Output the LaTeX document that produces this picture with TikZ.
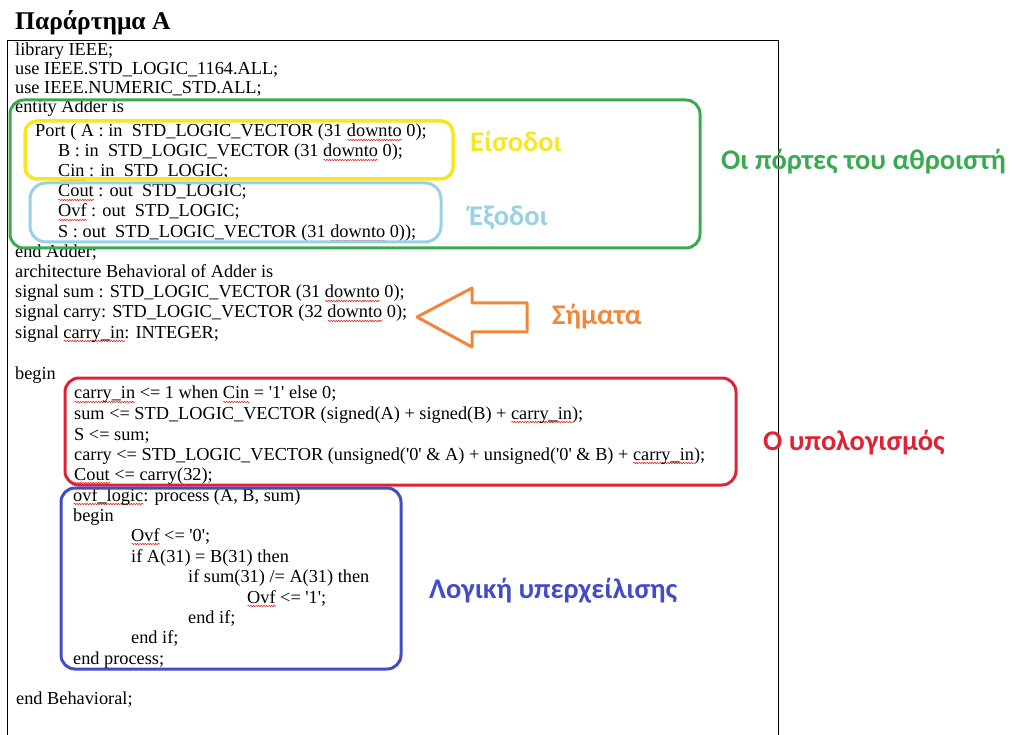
\documentclass[tikz,border=0pt]{standalone}
\usepackage{fontspec}
\setmainfont{Liberation Serif}
\newfontfamily\labelfont{Carlito}
\usetikzlibrary{decorations.pathmorphing}

\definecolor{portgreen}{RGB}{58,170,82}
\definecolor{ingold}{RGB}{248,230,34}
\definecolor{outblue}{RGB}{152,208,228}
\definecolor{sigorange}{RGB}{240,135,58}
\definecolor{calcred}{RGB}{222,36,52}
\definecolor{ovfblue}{RGB}{66,76,198}
\definecolor{spellred}{RGB}{228,40,40}

\newcommand\codesize{\fontsize{18.3}{20}\selectfont}
\newcommand\q{\textquotesingle}
% wavy spell-check underline below a word
\newlength\wavew
\newcommand\sq[1]{\settowidth\wavew{#1}\rlap{\tikz[baseline=0pt]\draw[spell] (0pt,-3pt) -- (\wavew,-3pt);}#1}

\tikzset{
  spell/.style={draw=spellred, line width=0.6pt, decorate,
    decoration={snake, segment length=2.6pt, amplitude=0.7pt}},
  code/.style={anchor=base west, inner sep=0pt, font=\codesize},
  tag/.style={anchor=base west, inner sep=0pt, font=\labelfont\bfseries\fontsize{28.5}{31}\selectfont},
  frame/.style={line width=3pt, rounded corners=14pt},
}

\begin{document}
\begin{tikzpicture}[x=1pt, y=-1pt]
\useasboundingbox (0,0) rectangle (1015,735);

% heading
\node[anchor=base west, inner sep=0pt, font=\bfseries\fontsize{25.5}{28}\selectfont] (title) at (15,30) {Παράρτημα Α};

% code listing frame (open at the bottom of the page)
\draw[line width=1pt] (7.5,740) -- (7.5,41) -- (778.5,41) -- (778.5,740);

% VHDL listing
\node[code] (l01) at (15,56)  {library IEEE;};
\node[code] (l02) at (15,75)  {use IEEE.STD\_LOGIC\_1164.ALL;};
\node[code] (l03) at (15,94)  {use IEEE.NUMERIC\_STD.ALL;};
\node[code] (l04) at (15,113) {entity Adder is};
\node[code] (l05) at (35,137) {Port ( A : in~~STD\_LOGIC\_VECTOR (31 \sq{downto} 0);};
\node[code] (l06) at (58,157) {B : in~~STD\_LOGIC\_VECTOR (31 \sq{downto} 0);};
\node[code] (l07) at (58,177) {\sq{Cin} : in~~STD\_LOGIC;};
\node[code] (l08) at (58,197) {\sq{Cout} : out~~STD\_LOGIC;};
\node[code] (l09) at (58,217) {\sq{Ovf} : out~~STD\_LOGIC;};
\node[code] (l10) at (58,238) {S : out~~STD\_LOGIC\_VECTOR (31 \sq{downto} 0));};
\node[code] (l11) at (15,258) {end Adder;};
\node[code] (l12) at (15,278) {architecture Behavioral of Adder is};
\node[code] (l13) at (15,298) {signal sum : STD\_LOGIC\_VECTOR (31 \sq{downto} 0);};
\node[code] (l14) at (15,318) {signal carry: STD\_LOGIC\_VECTOR (32 \sq{downto} 0);};
\node[code] (l15) at (15,338) {signal \sq{carry\_in}: INTEGER;};
\node[code] (l16) at (15,379) {begin};
\node[code] (l17) at (74,399) {\sq{carry\_in} <= 1 when \sq{Cin} = \q1\q{} else 0;};
\node[code] (l18) at (74,419) {sum <= STD\_LOGIC\_VECTOR (signed(A) + signed(B) + \sq{carry\_in});};
\node[code] (l19) at (74,440) {S <= sum;};
\node[code] (l20) at (74,460) {carry <= STD\_LOGIC\_VECTOR (unsigned(\q0\q{} \& A) + unsigned(\q0\q{} \& B) + \sq{carry\_in});};
\node[code] (l21) at (74,480) {\sq{Cout} <= carry(32);};
\node[code] (l22) at (73,501) {\sq{ovf\_logic}: process (A, B, sum)};
\node[code] (l23) at (73,521) {begin};
\node[code] (l24) at (131,541) {\sq{Ovf} <= \q0\q;};
\node[code] (l25) at (131,562) {if A(31) = B(31) then};
\node[code] (l26) at (188,582) {if sum(31) /= A(31) then};
\node[code] (l27) at (247,603) {\sq{Ovf} <= \q1\q;};
\node[code] (l28) at (188,623) {end if;};
\node[code] (l29) at (131,643) {end if;};
\node[code] (l30) at (73,664) {end process;};
\node[code] (l31) at (16,704) {end Behavioral;};

% highlighted regions
\draw[frame, draw=portgreen] (10,100) rectangle (700,248);
\draw[frame, draw=ingold, line width=3.5pt, rounded corners=12pt] (25,121) rectangle (453,179);
\draw[frame, draw=outblue, rounded corners=16pt] (30,183) rectangle (441,242);
\draw[frame, draw=calcred] (65,378) rectangle (736,485);
\draw[frame, draw=ovfblue] (61,488) rectangle (401,669);

% hollow arrow pointing at the signal declarations
\draw[draw=sigorange, line width=3pt, line join=round]
  (417,317) -- (472,288) -- (472,303) -- (527,303) -- (527,332)
  -- (472,332) -- (472,347) -- cycle;

% region captions
\node[tag, text=ingold]     (lin)    at (470,152) {Είσοδοι};
\node[tag, text=outblue]    (lout)   at (469,226) {Έξοδοι};
\node[tag, text=portgreen]  (lports) at (721,170) {Οι πόρτες του αθροιστή};
\node[tag, text=sigorange]  (lsig)   at (552,325) {Σήματα};
\node[tag, text=calcred]    (lcalc)  at (763,450) {Ο υπολογισμός};
\node[tag, text=ovfblue]    (lovf)   at (429,598) {Λογική υπερχείλισης};
\end{tikzpicture}
\end{document}
